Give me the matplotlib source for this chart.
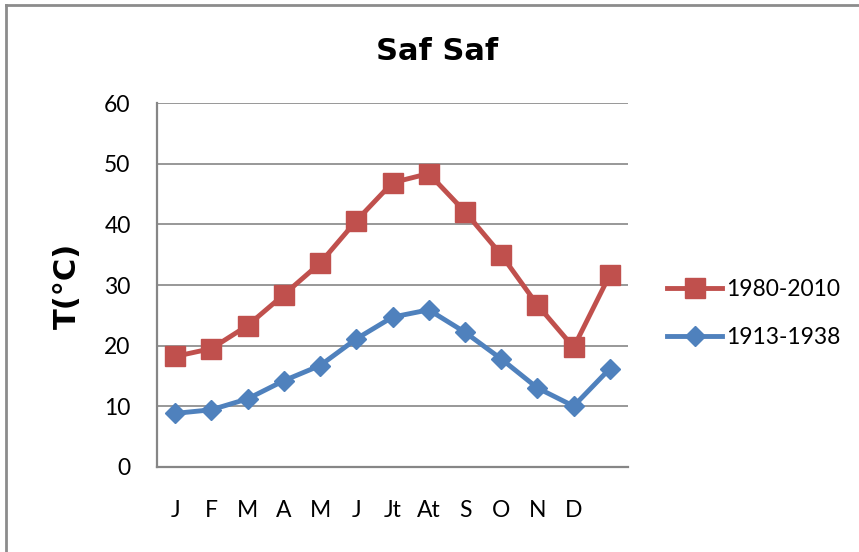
import matplotlib
matplotlib.use("Agg")
import matplotlib.pyplot as plt
from matplotlib.lines import Line2D

months = ["J", "F", "M", "A", "M", "J", "Jt", "At", "S", "O", "N", "D", ""]
t_1980_2010 = [18.2, 19.5, 23.3, 28.4, 33.6, 40.6, 46.9, 48.4, 42.1, 35.0, 26.7, 19.7, 31.7]
t_1913_1938 = [8.8, 9.4, 11.2, 14.2, 16.7, 21.1, 24.7, 25.9, 22.2, 17.8, 13.0, 10.0, 16.2]
yticks = [0, 10, 20, 30, 40, 50, 60]

RED = "#C0504D"
BLUE = "#4F81BD"
GRID = "#868686"

plt.rcParams["font.family"] = ["Lato", "DejaVu Sans"]

fig = plt.figure(figsize=(8.59, 5.52), dpi=100)
ax = fig.add_axes([157/859, 1-466.7/552, 471/859, (466.7-103.3)/552])

x = list(range(len(months)))
l1, = ax.plot(x, t_1980_2010, color=RED, lw=3.5, marker="s", ms=14,
              markeredgecolor=RED, markerfacecolor=RED, label="1980-2010", zorder=3)
l2, = ax.plot(x, t_1913_1938, color=BLUE, lw=3.5, marker="D", ms=10.5,
              markeredgecolor=BLUE, markerfacecolor=BLUE, label="1913-1938", zorder=3)

ax.set_xlim(-0.5, len(months) - 0.5)
ax.set_ylim(0, 60)
ax.set_yticks(yticks)
ax.set_yticklabels([str(v) for v in yticks])
ax.set_xticks(x)
ax.set_xticklabels(months)
ax.tick_params(axis="both", length=0, labelsize=16.5, colors="black")
ax.tick_params(axis="y", pad=19)
ax.tick_params(axis="x", pad=24)

ax.grid(axis="y", color=GRID, lw=1.2, zorder=0)
ax.set_axisbelow(True)
for s in ["top", "right"]:
    ax.spines[s].set_visible(False)
for s in ["left", "bottom"]:
    ax.spines[s].set_color(GRID)
    ax.spines[s].set_linewidth(1.6)

fig.text(437/859, 1-51/552, "Saf Saf", ha="center", va="center",
         fontsize=22, fontweight="bold", family="DejaVu Sans")
fig.text(67/859, 1-286/552, "T(°C)", ha="center", va="center", rotation=90,
         fontsize=22, fontweight="bold", family="DejaVu Sans")

fig.legend(handles=[l1, l2], loc="center left", bbox_to_anchor=(667/859, 1-313.5/552),
           frameon=False, fontsize=16.5, handlelength=2.4, handletextpad=0.2,
           labelspacing=1.2, borderaxespad=0, borderpad=0)

# outer chart border
fig.add_artist(Line2D([6/859, 1], [1-5/552, 1-5/552], transform=fig.transFigure,
                      color="#8C8C8C", lw=2))
fig.add_artist(Line2D([6/859, 6/859], [0, 1-5/552], transform=fig.transFigure,
                      color="#8C8C8C", lw=2))

fig.savefig("out.png", dpi=100)
